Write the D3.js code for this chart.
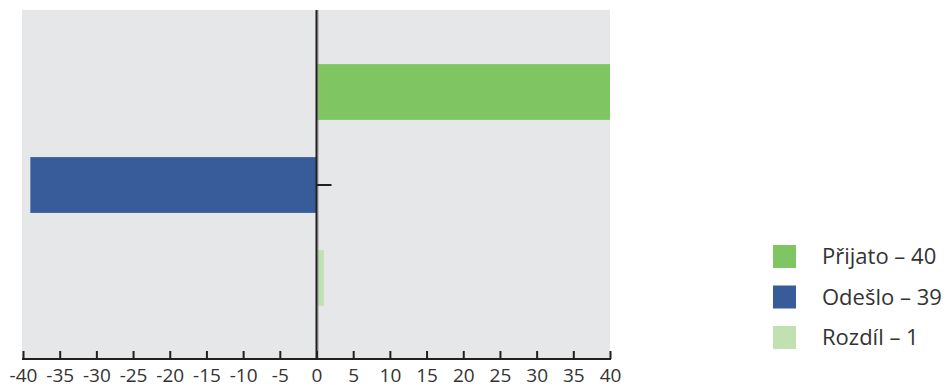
<!DOCTYPE html>
<html><head><meta charset="utf-8">
<script src="https://cdn.jsdelivr.net/npm/d3@7"></script>
<style>body{margin:0;background:#fff}svg{display:block}text{font-family:"Open Sans",sans-serif}</style>
</head><body>
<script>
const categories = ["Přijato", "Odešlo", "Rozdíl"];
const values = [40, -39, 1];
const colors = ["#7fc662", "#385b9a", "#c2e1b1"];
const legendLabels = ["Přijato – 40", "Odešlo – 39", "Rozdíl – 1"];
const xTicks = [-40,-35,-30,-25,-20,-15,-10,-5,0,5,10,15,20,25,30,35,40];

const W = 949, H = 388;
const svg = d3.select("body").append("svg").attr("width", W).attr("height", H);

const plot = {x0: 22, x1: 610, y0: 10, y1: 358};
const x = d3.scaleLinear().domain([-40, 40]).range([23, 610]);
const y = d3.scaleBand().domain(categories).range([45.5, 324.5]).paddingInner(0.4).paddingOuter(0.2);

svg.append("rect").attr("x", plot.x0).attr("y", plot.y0)
  .attr("width", plot.x1 - plot.x0).attr("height", plot.y1 - plot.y0).attr("fill", "#e6e7e8");

svg.selectAll("rect.bar").data(values).join("rect").attr("class", "bar")
  .attr("x", d => x(Math.min(0, d)))
  .attr("width", d => Math.abs(x(d) - x(0)))
  .attr("y", (d, i) => y(categories[i]))
  .attr("height", y.bandwidth())
  .attr("fill", (d, i) => colors[i]);

// zero line
svg.append("line").attr("x1", x(0) + 1.5).attr("x2", x(0) + 1.5).attr("y1", plot.y0).attr("y2", plot.y1)
  .attr("stroke", "#9a9a9a").attr("stroke-width", 1);
svg.append("line").attr("x1", x(0)).attr("x2", x(0)).attr("y1", plot.y0).attr("y2", plot.y1)
  .attr("stroke", "#231f20").attr("stroke-width", 2);
// middle category tick
const midY = y(categories[1]) + y.bandwidth() / 2;
svg.append("line").attr("x1", x(0)).attr("x2", x(0) + 15).attr("y1", midY).attr("y2", midY)
  .attr("stroke", "#231f20").attr("stroke-width", 2);

// x axis
const axis = d3.axisBottom(x).tickValues(xTicks).tickSize(0).tickFormat(d3.format("d"));
const gx = svg.append("g").attr("transform", `translate(0,${plot.y1 + 1})`).call(axis);
gx.select(".domain").remove();
gx.append("line").attr("x1", x(-40) - 1).attr("x2", x(40) + 1).attr("y1", 0).attr("y2", 0)
  .attr("stroke", "#231f20").attr("stroke-width", 2);
gx.selectAll(".tick").append("line").attr("y1", 0).attr("y2", -8)
  .attr("stroke", "#231f20").attr("stroke-width", 2);
gx.selectAll(".tick text").attr("y", 10).attr("dy", "0.71em")
  .attr("font-size", 19).attr("fill", "#333").style("font-family", '"Open Sans", sans-serif')
  .text(d => d < 0 ? "-" + Math.abs(d) : d);

// legend
const lg = svg.append("g");
const ly = [245, 285.5, 326];
legendLabels.forEach((t, i) => {
  lg.append("rect").attr("x", 773).attr("y", ly[i]).attr("width", 23).attr("height", 23).attr("fill", colors[i]);
  lg.append("text").attr("x", 822).attr("y", ly[i] + 11.5).attr("dy", "0.35em")
    .attr("font-size", 22).attr("fill", "#333").text(t);
});
</script>
</body></html>
